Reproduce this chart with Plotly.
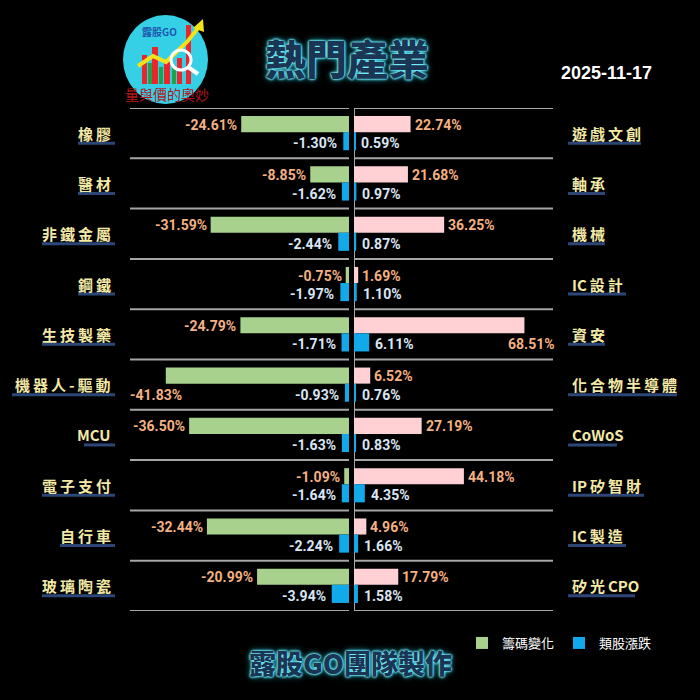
import plotly.graph_objects as go

# ---- data ----
left_categories = ["橡膠", "醫材", "非鐵金屬", "鋼鐵", "生技製藥", "機器人-驅動", "MCU", "電子支付", "自行車", "玻璃陶瓷"]
left_chip = [-24.61, -8.85, -31.59, -0.75, -24.79, -41.83, -36.50, -1.09, -32.44, -20.99]
left_price = [-1.30, -1.62, -2.44, -1.97, -1.71, -0.93, -1.63, -1.64, -2.24, -3.94]

right_categories = ["遊戲文創", "軸承", "機械", "IC設計", "資安", "化合物半導體", "CoWoS", "IP矽智財", "IC製造", "矽光CPO"]
right_chip = [22.74, 21.68, 36.25, 1.69, 68.51, 6.52, 27.19, 44.18, 4.96, 17.79]
right_price = [0.59, 0.97, 0.87, 1.10, 6.11, 0.76, 0.83, 4.35, 1.66, 1.58]

title_text = "熱門產業"
date_text = "2025-11-17"
footer_text = "露股GO團隊製作"
legend_names = ["籌碼變化", "類股漲跌"]

# ---- styles ----
W = H = 700
CJK = "Noto Sans CJK TC"
NUM = "Roboto"
GREEN = "#a9d18e"
PINK = "#ffd1d5"
BLUE = "#12a9ea"
ORANGE = "#f4b183"
PALE = "#dae6f5"
YELLOW = "#f3e9a6"
NAVY = "#2c4678"
GRID = "#a6a6a6"
LEFT_RANGE = [-50, 0]
RIGHT_RANGE = [0, 80]
LEFT_PX = (130, 349)
RIGHT_PX = (354, 553)
TOP_PX, BOTTOM_PX = 108, 611
GLOW = "0px 0px 2px #7ff6ff, 0px 0px 2px #7ff6ff, 0px 0px 3px #5cecff, 0px 0px 6px #26c6e0"


def px(x):
    return x / W


def py(y):
    return 1 - y / H


def spaced(s):
    out = ""
    for i, ch in enumerate(s):
        if i > 0 and (ord(ch) > 127 or ord(s[i - 1]) > 127):
            out += "\u2009"
        out += ch
    return out


def text_width(s, size=15):
    w = 0
    for i, ch in enumerate(s):
        w += size if ord(ch) > 127 else size * 0.6
        if i > 0 and (ord(ch) > 127 or ord(s[i - 1]) > 127):
            w += 3
    return w


def label(x, y, text, xref, yref, xanchor, font, xshift=0):
    return dict(x=x, y=y, xref=xref, yref=yref, text=text, showarrow=False,
                xanchor=xanchor, yanchor="middle", xshift=xshift, font=font)


rows = list(range(len(left_categories)))
n = len(rows)
row_h = (BOTTOM_PX - TOP_PX) / n

fig = go.Figure()

fig.add_trace(go.Bar(y=rows, x=left_chip, orientation="h", offset=-0.34, width=0.32,
                     marker=dict(color=GREEN, line_width=0), name=legend_names[0],
                     legendgroup="chip", xaxis="x", yaxis="y", hoverinfo="skip"))
fig.add_trace(go.Bar(y=rows, x=left_price, orientation="h", offset=-0.02, width=0.36,
                     marker=dict(color=BLUE, line_width=0), name=legend_names[1],
                     legendgroup="price", xaxis="x", yaxis="y", hoverinfo="skip"))
fig.add_trace(go.Bar(y=rows, x=right_chip, orientation="h", offset=-0.34, width=0.32,
                     marker=dict(color=PINK, line_width=0), name=legend_names[0],
                     legendgroup="chip", showlegend=False, xaxis="x2", yaxis="y", hoverinfo="skip"))
fig.add_trace(go.Bar(y=rows, x=right_price, orientation="h", offset=-0.02, width=0.36,
                     marker=dict(color=BLUE, line_width=0), name=legend_names[1],
                     legendgroup="price", showlegend=False, xaxis="x2", yaxis="y", hoverinfo="skip"))

annotations = []
shapes = []

left_scale = (LEFT_PX[1] - LEFT_PX[0]) / (LEFT_RANGE[1] - LEFT_RANGE[0])
right_scale = (RIGHT_PX[1] - RIGHT_PX[0]) / (RIGHT_RANGE[1] - RIGHT_RANGE[0])
label_px = 52
chip_font = dict(family=NUM, size=14, color=ORANGE, weight="bold")
price_font = dict(family=NUM, size=14, color=PALE, weight="bold")
cat_font = dict(family=CJK, size=15, color=YELLOW, weight="bold")

for i in rows:
    # left value labels (moved under the bar when they would run off the panel)
    v = left_chip[i]
    if v - (label_px + 4) / left_scale < LEFT_RANGE[0]:
        annotations.append(label(v, i + 0.2, f"{v:.2f}%", "x", "y", "center", chip_font, -10))
    else:
        annotations.append(label(v, i - 0.17, f"{v:.2f}%", "x", "y", "right", chip_font, -2))
    v = left_price[i]
    annotations.append(label(v, i + 0.2, f"{v:.2f}%", "x", "y", "right", price_font, -4))

    # right value labels
    v = right_chip[i]
    if v + (label_px + 4) / right_scale > RIGHT_RANGE[1]:
        annotations.append(label(v, i + 0.2, f"{v:.2f}%", "x2", "y", "center", chip_font, 7))
    else:
        annotations.append(label(v, i - 0.17, f"{v:.2f}%", "x2", "y", "left", chip_font, 2))
    v = right_price[i]
    annotations.append(label(v, i + 0.2, f"{v:.2f}%", "x2", "y", "left", price_font, 4))

    # category labels with underline
    yc = TOP_PX + (i + 0.5) * row_h
    lw = text_width(left_categories[i])
    annotations.append(label(px(113), py(yc), spaced(left_categories[i]), "paper", "paper", "right", cat_font))
    shapes.append(dict(type="line", xref="paper", yref="paper", x0=px(113 - lw - 2), x1=px(115),
                       y0=py(yc + 10), y1=py(yc + 10), line=dict(color=NAVY, width=3)))
    rw = text_width(right_categories[i])
    annotations.append(label(px(570), py(yc), spaced(right_categories[i]), "paper", "paper", "left", cat_font))
    shapes.append(dict(type="line", xref="paper", yref="paper", x0=px(568), x1=px(570 + rw + 2),
                       y0=py(yc + 10), y1=py(yc + 10), line=dict(color=NAVY, width=3)))

# row separators
for i in range(n + 1):
    for a, b in (LEFT_PX, RIGHT_PX):
        shapes.append(dict(type="line", xref="paper", yref="y", x0=px(a), x1=px(b), y0=i - 0.5, y1=i - 0.5,
                           line=dict(color=GRID, width=2), layer="below"))
shapes.append(dict(type="line", xref="x2", yref="y", x0=0, x1=0, y0=-0.5, y1=n - 0.5,
                   line=dict(color=GRID, width=2), layer="below"))

# header / footer
annotations.append(label(px(347), py(57), title_text, "paper", "paper", "center",
                         dict(family=CJK, size=41, color="#1b3555", weight=900, shadow=GLOW)))
annotations.append(label(px(606), py(73), f"<b>{date_text}</b>", "paper", "paper", "center",
                         dict(family="Liberation Sans", size=18, color="white")))
annotations.append(label(px(350), py(662), footer_text, "paper", "paper", "center",
                         dict(family=CJK, size=27, color="#1b3555", weight=900, shadow=GLOW)))

# logo (decoration)
shapes.append(dict(type="circle", xref="paper", yref="paper", x0=px(123), x1=px(208), y0=py(104), y1=py(15),
                   fillcolor="#35d0e6", line_width=0))
for x0, x1, top, col in [(142, 147, 55, "#e8262b"), (148, 152, 63, "#1fa34a"), (152, 158, 47, "#e8262b"),
                         (159, 163, 67, "#1fa34a"), (164, 170, 60, "#e8262b"), (172, 176, 68, "#1fa34a"),
                         (177, 182, 58, "#e8262b"), (186, 191, 25, "#e8262b")]:
    shapes.append(dict(type="rect", xref="paper", yref="paper", x0=px(x0), x1=px(x1), y0=py(84), y1=py(top),
                       fillcolor=col, line_width=0))
arrow_pts = [(138, 66), (153, 56), (166, 62), (187, 42), (199, 27)]
path = "M " + " L ".join(f"{px(x)},{py(y)}" for x, y in arrow_pts)
shapes.append(dict(type="path", xref="paper", yref="paper", path=path, line=dict(color="#f2e21c", width=4)))
shapes.append(dict(type="path", xref="paper", yref="paper",
                   path=f"M {px(193)},{py(28)} L {px(203)},{py(19)} L {px(204)},{py(32)} Z",
                   fillcolor="#f2e21c", line_width=0))
shapes.append(dict(type="circle", xref="paper", yref="paper", x0=px(171), x1=px(191), y0=py(70), y1=py(50),
                   line=dict(color="white", width=3)))
shapes.append(dict(type="line", xref="paper", yref="paper", x0=px(188), x1=px(198), y0=py(67), y1=py(74),
                   line=dict(color="white", width=4)))
annotations.append(label(px(159), py(32), "<b>露股GO</b>", "paper", "paper", "center",
                         dict(family=CJK, size=10, color="#1d58b0")))
annotations.append(label(px(167), py(94), "量與價的奧妙", "paper", "paper", "center",
                         dict(family=CJK, size=14, color="#b3161b")))

fig.update_layout(
    width=W, height=H,
    paper_bgcolor="black", plot_bgcolor="black",
    margin=dict(l=0, r=0, t=0, b=0),
    barmode="overlay",
    xaxis=dict(domain=[px(LEFT_PX[0]), px(LEFT_PX[1])], range=LEFT_RANGE, visible=False, fixedrange=True, anchor="y"),
    xaxis2=dict(domain=[px(RIGHT_PX[0]), px(RIGHT_PX[1])], range=RIGHT_RANGE, visible=False, fixedrange=True, anchor="y"),
    yaxis=dict(domain=[py(BOTTOM_PX), py(TOP_PX)], range=[n - 0.5, -0.5], visible=False, fixedrange=True, anchor="x"),
    legend=dict(orientation="h", x=px(462), xanchor="left", y=py(628), yanchor="top",
                font=dict(family=CJK, size=13, color="white"), bgcolor="rgba(0,0,0,0)",
                itemwidth=30, traceorder="normal"),
    annotations=annotations,
    shapes=shapes,
    showlegend=True,
)

fig.write_html("out.html", config={"displayModeBar": False},
               post_script="document.body.style.margin='0px';")
